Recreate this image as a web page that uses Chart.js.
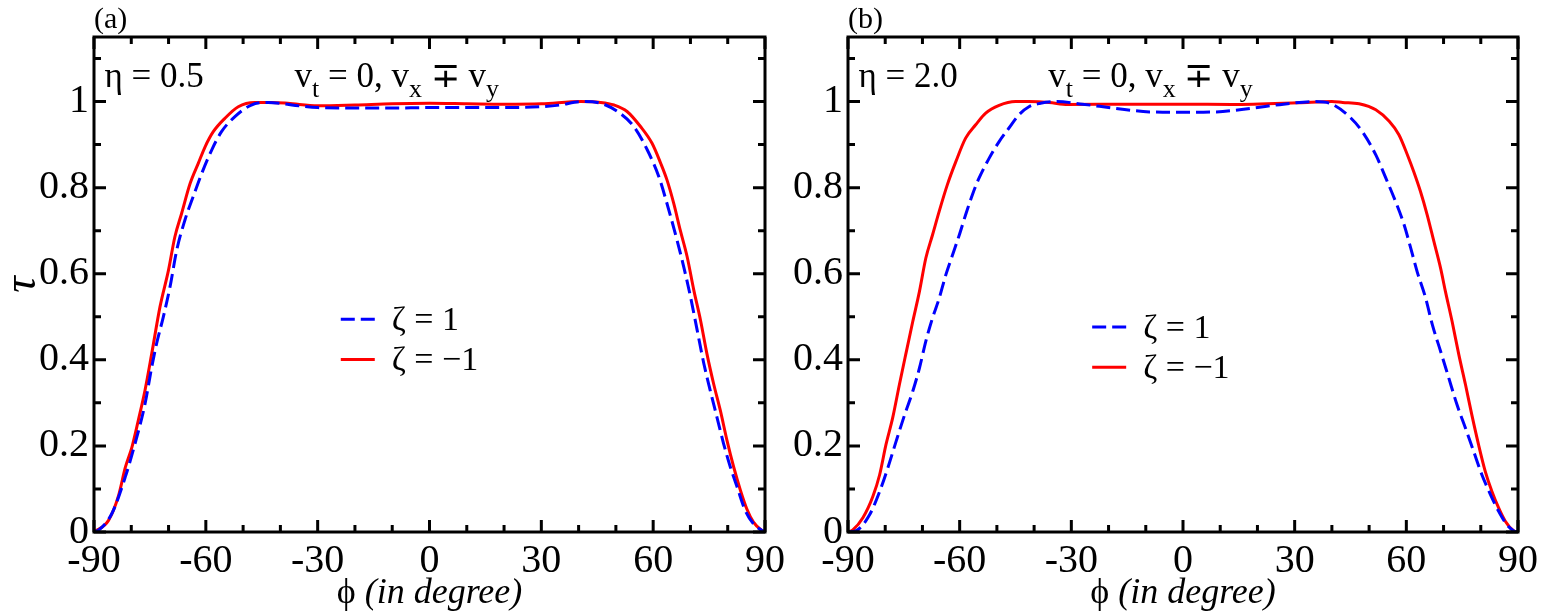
<!DOCTYPE html>
<html>
<head>
<meta charset="utf-8">
<script src="https://cdn.jsdelivr.net/npm/chart.js@4.4.1/dist/chart.umd.min.js"></script>
<style>
html, body { margin: 0; padding: 0; background: #fff; }
#wrap { position: relative; width: 1544px; height: 612px; }
.panel { position: absolute; top: 0; height: 612px; }
#pa { left: 0; width: 790px; }
#pb { left: 790px; width: 754px; }
</style>
</head>
<body>
<div id="wrap">
  <div class="panel" id="pa"><canvas id="chartA"></canvas></div>
  <div class="panel" id="pb"><canvas id="chartB"></canvas></div>
</div>
<script>
// tick positions (every 10 deg / 0.1), labels only on the major ones
const phiTicks = [-90, -80, -70, -60, -50, -40, -30, -20, -10, 0, 10, 20, 30, 40, 50, 60, 70, 80, 90];
const phiLabels = ['-90', '-60', '-30', '0', '30', '60', '90'];
const tauTicks = [0, 0.1, 0.2, 0.3, 0.4, 0.5, 0.6, 0.7, 0.8, 0.9, 1, 1.1];
const tauLabels = ['0', '0.2', '0.4', '0.6', '0.8', '1'];

// panel (a), eta = 0.5
const phiA1 = [-90, -88.8, -85.2, -81.6, -79, -76.3, -74.5, -73.2, -71.4, -69.6, -67.8, -65.6, -63.4, -61.1, -58.4, -55.8, -52.2, -47.8, -43.3, -40, -35, -30, -20, -10, 0, 10, 20, 30, 35, 40.6, 45.9, 50.4, 54.8, 58.4, 61.5, 64.2, 66.4, 68.2, 70, 71.8, 73.6, 75.3, 77.1, 78.9, 80.7, 82.5, 84.7, 86.9, 89.1, 90];
const tauA1 = [0, 0.004, 0.043, 0.128, 0.205, 0.298, 0.384, 0.438, 0.5, 0.57, 0.655, 0.725, 0.779, 0.833, 0.888, 0.93, 0.965, 0.992, 0.998, 0.996, 0.99, 0.986, 0.985, 0.985, 0.986, 0.986, 0.986, 0.988, 0.992, 1.0, 0.996, 0.977, 0.942, 0.888, 0.826, 0.748, 0.678, 0.616, 0.547, 0.469, 0.391, 0.329, 0.267, 0.205, 0.151, 0.105, 0.05, 0.019, 0.004, 0];
const phiA2 = [-90, -86.1, -83.4, -81.6, -79.8, -78.1, -76.3, -74.5, -72.3, -70, -68.3, -66.5, -64.2, -62, -60.2, -58, -54.9, -51.3, -46.9, -42.4, -38, -30, -20, -10, 0, 10, 20, 30, 40.6, 45.9, 49.5, 53, 56.6, 59.7, 62, 63.7, 65.5, 67.3, 69.1, 70.9, 72.7, 74.4, 76.2, 78, 79.8, 81.6, 83.4, 85.1, 86.9, 89.1, 90];
const tauA2 = [0, 0.027, 0.085, 0.15, 0.198, 0.26, 0.33, 0.415, 0.523, 0.609, 0.686, 0.74, 0.81, 0.857, 0.895, 0.93, 0.961, 0.988, 0.998, 0.998, 0.996, 0.99, 0.992, 0.995, 0.996, 0.995, 0.994, 0.995, 1.0, 0.998, 0.992, 0.977, 0.942, 0.903, 0.857, 0.818, 0.764, 0.70, 0.64, 0.562, 0.492, 0.415, 0.345, 0.283, 0.213, 0.151, 0.097, 0.054, 0.023, 0.004, 0];

// panel (b), eta = 2.0
const phiB1 = [-90, -87.8, -84.2, -81.5, -79.3, -77.1, -74.8, -72.6, -70.8, -69.1, -67.3, -65.5, -63.7, -61.9, -60.1, -58.4, -56.6, -54.8, -52.1, -49.4, -46.8, -44.1, -41.4, -38.3, -34, -27, -18, -9, 0, 9, 18, 27, 35.6, 40, 44.7, 48.2, 51.8, 54.5, 57.1, 59.4, 61.2, 62.9, 65.2, 67, 69.2, 71.4, 73.6, 75.9, 78.1, 80.3, 82.6, 84.8, 87, 88.8, 90];
const tauB1 = [0, 0.003, 0.04, 0.094, 0.149, 0.21, 0.272, 0.327, 0.381, 0.443, 0.497, 0.543, 0.598, 0.644, 0.69, 0.737, 0.783, 0.822, 0.868, 0.907, 0.938, 0.969, 0.988, 0.996, 1.0, 0.994, 0.984, 0.976, 0.975, 0.976, 0.984, 0.994, 1.0, 0.994, 0.965, 0.93, 0.876, 0.822, 0.768, 0.714, 0.659, 0.605, 0.543, 0.481, 0.42, 0.358, 0.296, 0.241, 0.187, 0.133, 0.087, 0.048, 0.017, 0.003, 0];
const phiB2 = [-90, -88.7, -86, -83.3, -81.5, -79.8, -78, -76.2, -74.5, -72.6, -70.8, -69.1, -67.3, -65.5, -63.3, -61, -58.4, -55.7, -53, -49.4, -45, -41.4, -36, -31, -14, 0, 13, 31, 40, 42.9, 47.3, 51.8, 55.4, 58, 60.3, 62, 63.8, 65.6, 67.4, 69.2, 70.5, 72.3, 74.1, 75.9, 77.6, 79.4, 81.2, 83, 84.8, 86.6, 88.8, 90];
const tauB2 = [0, 0.005, 0.033, 0.083, 0.133, 0.203, 0.265, 0.342, 0.412, 0.489, 0.559, 0.636, 0.69, 0.745, 0.807, 0.861, 0.915, 0.946, 0.973, 0.991, 1.0, 1.0, 0.998, 0.993, 0.994, 0.994, 0.993, 0.997, 1.0, 0.998, 0.995, 0.981, 0.954, 0.923, 0.876, 0.837, 0.791, 0.737, 0.675, 0.613, 0.559, 0.489, 0.412, 0.342, 0.272, 0.203, 0.141, 0.094, 0.056, 0.025, 0.003, 0];

const seriesNames = ['ζ = 1', 'ζ = −1'];

const SERIF = "'Liberation Serif', 'Times New Roman', serif";

function pts(xs, ys) {
    return xs.map((x, i) => ({ x: x, y: ys[i] }));
}

function drawRuns(ctx, x, y, runs) {
    runs.forEach(r => {
        ctx.font = r.font;
        ctx.fillText(r.t, x, y + (r.dy || 0));
        x += ctx.measureText(r.t).width;
    });
}

// frame, inward ticks on all four sides, texts and legend
const panelPlugin = {
    id: 'panel',
    afterDraw(chart, args, opts) {
        const ctx = chart.ctx;
        const a = chart.chartArea;
        const xs = chart.scales.x, ys = chart.scales.y;
        ctx.save();
        ctx.strokeStyle = '#000';
        ctx.lineWidth = 3;
        ctx.lineCap = 'butt';
        ctx.beginPath();
        phiTicks.forEach(v => {
            const len = v % 30 === 0 ? 12 : 7;
            const px = xs.getPixelForValue(v);
            ctx.moveTo(px, a.bottom); ctx.lineTo(px, a.bottom - len);
            ctx.moveTo(px, a.top); ctx.lineTo(px, a.top + len);
        });
        tauTicks.forEach(v => {
            const len = Math.round(v * 10) % 2 === 0 ? 12 : 7;
            const py = ys.getPixelForValue(v);
            ctx.moveTo(a.left, py); ctx.lineTo(a.left + len, py);
            ctx.moveTo(a.right, py); ctx.lineTo(a.right - len, py);
        });
        ctx.stroke();
        ctx.strokeRect(a.left, a.top, a.right - a.left, a.bottom - a.top);

        ctx.fillStyle = '#000';
        ctx.textBaseline = 'alphabetic';
        ctx.textAlign = 'left';

        // panel letter
        ctx.font = '30px ' + SERIF;
        ctx.fillText(opts.letter, a.left, a.top - 9);

        // eta label and velocity condition
        const ty = ys.getPixelForValue(1.033);
        ctx.font = '35px ' + SERIF;
        ctx.fillText(opts.eta, xs.getPixelForValue(-87.2), ty);
        const big = '35px ' + SERIF, small = '26px ' + SERIF;
        drawRuns(ctx, xs.getPixelForValue(-36.2), ty, [
            { t: 'v', font: big }, { t: 't', font: small, dy: 10 },
            { t: ' = 0, v', font: big }, { t: 'x', font: small, dy: 10 },
            { t: ' \u2213 v', font: '300 ' + big }, { t: 'y', font: small, dy: 10 }
        ]);

        // legend
        const lx = xs.getPixelForValue(opts.legendPhi);
        chart.data.datasets.forEach((ds, i) => {
            const py = ys.getPixelForValue(opts.legendTau[i]);
            ctx.strokeStyle = ds.borderColor;
            ctx.lineWidth = ds.borderWidth;
            ctx.setLineDash(ds.borderDash || []);
            ctx.beginPath();
            ctx.moveTo(lx, py); ctx.lineTo(lx + 34, py);
            ctx.stroke();
            ctx.setLineDash([]);
            ctx.font = '34px ' + SERIF;
            ctx.fillText(ds.label, lx + 51, py + 11);
        });

        // x axis title: upright phi, italic words
        ctx.font = '36px ' + SERIF;
        const w1 = ctx.measureText('\u03d5 ').width;
        ctx.font = 'italic 36px ' + SERIF;
        const w2 = ctx.measureText('(in degree)').width;
        let tx = (a.left + a.right) / 2 - (w1 + w2) / 2;
        drawRuns(ctx, tx, 603, [
            { t: '\u03d5 ', font: '36px ' + SERIF },
            { t: '(in degree)', font: 'italic 36px ' + SERIF }
        ]);
        ctx.restore();
    }
};

function makeChart(id, d1, d2, opts) {
    const tickFont = { family: SERIF, size: 40 };
    return new Chart(document.getElementById(id), {
        type: 'line',
        data: {
            datasets: [
                { label: seriesNames[0], data: d1, borderColor: '#0000ff', borderWidth: 3, borderDash: [14, 6] },
                { label: seriesNames[1], data: d2, borderColor: '#ff0000', borderWidth: 3 }
            ]
        },
        options: {
            responsive: true,
            maintainAspectRatio: false,
            animation: false,
            parsing: false,
            elements: { point: { radius: 0 }, line: { tension: 0.4, cubicInterpolationMode: 'monotone', fill: false } },
            layout: { padding: { top: 37, right: opts.padRight, left: 0, bottom: 0 } },
            scales: {
                x: {
                    type: 'linear', min: -90, max: 90,
                    afterBuildTicks: s => { s.ticks = phiTicks.map(v => ({ value: v })); },
                    afterFit: s => { s.height = 80; },
                    grid: { display: false, drawTicks: false },
                    border: { display: false },
                    ticks: {
                        autoSkip: false, maxRotation: 0, color: '#000', font: tickFont, padding: 5,
                        callback: v => phiLabels.includes(String(v)) ? String(v) : ''
                    }
                },
                y: {
                    type: 'linear', min: 0, max: 1.15,
                    afterBuildTicks: s => { s.ticks = tauTicks.map(v => ({ value: v })); },
                    afterFit: s => { s.width = opts.yWidth; },
                    grid: { display: false, drawTicks: false },
                    border: { display: false },
                    ticks: {
                        autoSkip: false, color: '#000', font: tickFont, padding: 5,
                        callback: v => tauLabels.includes(String(v)) ? String(v) : ''
                    },
                    title: {
                        display: opts.yTitle, text: '\u03c4', color: '#000',
                        font: { family: SERIF, size: 46, style: 'italic', lineHeight: 1 },
                        padding: 0
                    }
                }
            },
            plugins: {
                legend: { display: false },
                tooltip: { enabled: false },
                panel: opts.panel
            }
        },
        plugins: [panelPlugin]
    });
}

makeChart('chartA', pts(phiA1, tauA1), pts(phiA2, tauA2), {
    padRight: 24, yWidth: 94, yTitle: true,
    panel: { letter: '(a)', eta: '\u03b7 = 0.5', legendPhi: -23.8, legendTau: [0.494, 0.401] }
});
makeChart('chartB', pts(phiB1, tauB1), pts(phiB2, tauB2), {
    padRight: 26, yWidth: 58, yTitle: false,
    panel: { letter: '(b)', eta: '\u03b7 = 2.0', legendPhi: -24.4, legendTau: [0.476, 0.383] }
});
</script>
</body>
</html>
